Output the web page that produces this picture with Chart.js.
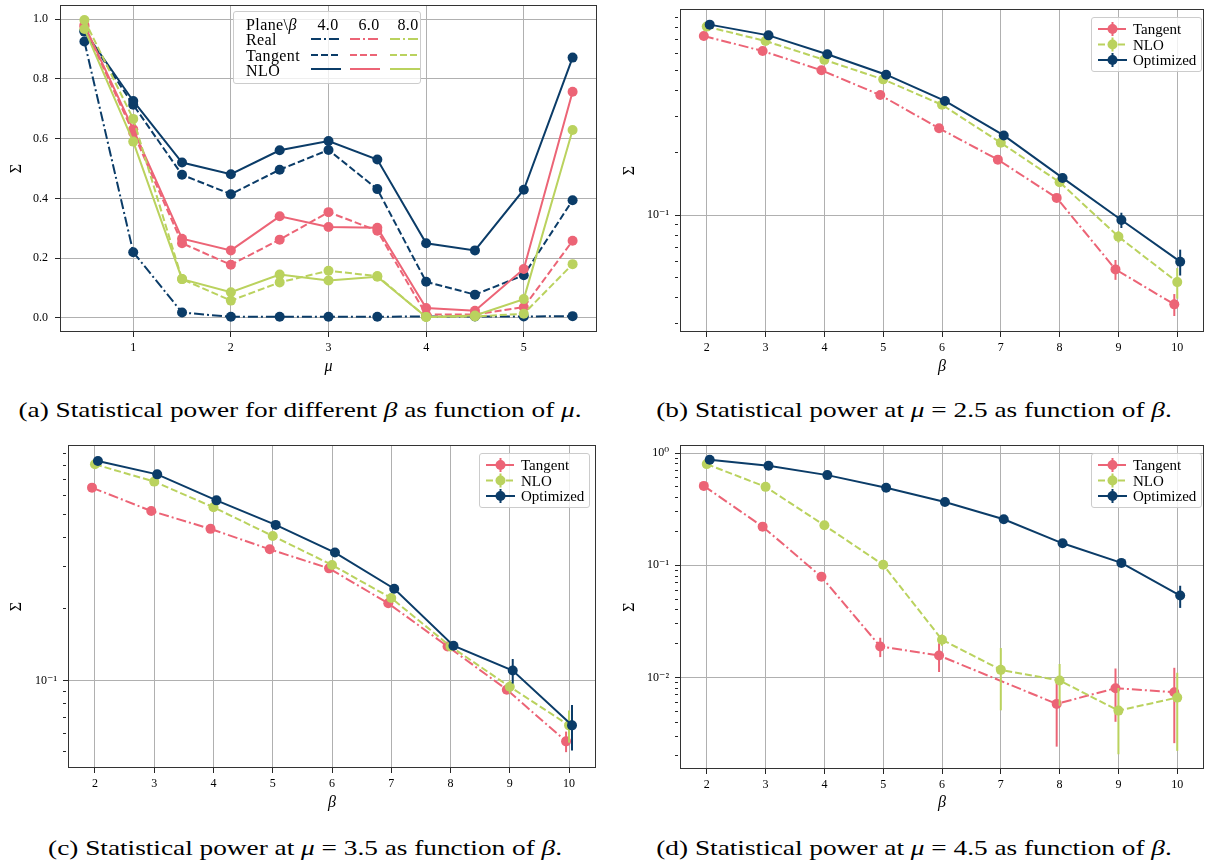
<!DOCTYPE html>
<html>
<head>
<meta charset="utf-8">
<title>Statistical power</title>
<script src="https://cdn.jsdelivr.net/npm/chart.js@4.4.1/dist/chart.umd.min.js"></script>
<style>
  body { margin: 0; background: #fff; }
  #page { position: relative; width: 1213px; height: 865px; overflow: hidden; font-family: 'Liberation Serif', 'DejaVu Serif', serif; color: #000; }
  canvas { position: absolute; }
  .cap { position: absolute; font-family: 'Liberation Serif', serif; font-size: 22px; line-height: 1; white-space: nowrap; transform: translate(-50%, -50%) scaleX(1.24); }
  .leg { position: absolute; box-sizing: border-box; background: rgba(255,255,255,0.8); border: 1px solid #cccccc; border-radius: 3px; font-size: 15px; }
  .leg svg { position: absolute; left: -1px; top: -1px; }
  .leg span { position: absolute; line-height: 1; white-space: nowrap; transform: translateY(-50%); }
  .leg.plane { font-size: 16px; letter-spacing: 0.4px; }
</style>
</head>
<body>
<div id="page">
  <canvas id="chartA" width="606" height="388" style="left:0;top:0"></canvas>
  <canvas id="chartB" width="607" height="388" style="left:606px;top:0"></canvas>
  <canvas id="chartC" width="606" height="388" style="left:0;top:436px"></canvas>
  <canvas id="chartD" width="607" height="388" style="left:606px;top:436px"></canvas>

  <div class="cap" style="left:300px;top:410px">(a) Statistical power for different <i>β</i> as function of <i>μ</i>.</div>
  <div class="cap" style="left:914px;top:410px">(b) Statistical power at <i>μ</i> = 2.5 as function of <i>β</i>.</div>
  <div class="cap" style="left:305px;top:848px">(c) Statistical power at <i>μ</i> = 3.5 as function of <i>β</i>.</div>
  <div class="cap" style="left:914px;top:848px">(d) Statistical power at <i>μ</i> = 4.5 as function of <i>β</i>.</div>
</div>
<script>
// ---- panel (a): power vs mu, one line per plane and beta
const mu = [0.5, 1, 1.5, 2, 2.5, 3, 3.5, 4, 4.5, 5, 5.5];
const muTicks = [1, 2, 3, 4, 5];
const powerTicks = [0, 0.2, 0.4, 0.6, 0.8, 1.0];

const real4 = [0.925, 0.22, 0.018, 0.004, 0.004, 0.004, 0.004, 0.005, 0.005, 0.005, 0.006];
const tangent4 = [0.958, 0.713, 0.479, 0.414, 0.496, 0.562, 0.431, 0.121, 0.078, 0.143, 0.394];
const nlo4 = [0.96, 0.726, 0.52, 0.481, 0.561, 0.592, 0.53, 0.25, 0.226, 0.429, 0.871];
const tangent6 = [0.975, 0.62, 0.25, 0.178, 0.262, 0.354, 0.292, 0.011, 0.012, 0.036, 0.258];
const nlo6 = [0.98, 0.631, 0.265, 0.226, 0.34, 0.304, 0.302, 0.033, 0.024, 0.164, 0.757];
const tangent8 = [0.997, 0.666, 0.13, 0.058, 0.119, 0.158, 0.14, 0.003, 0.005, 0.014, 0.18];
const nlo8 = [0.967, 0.59, 0.13, 0.086, 0.145, 0.125, 0.138, 0.003, 0.008, 0.063, 0.629];

// ---- panels (b)-(d): power vs beta at fixed mu, with errors
const betas = [2, 3, 4, 5, 6, 7, 8, 9, 10];

const tangentMu25 = [0.73, 0.618, 0.499, 0.379, 0.262, 0.185, 0.121, 0.0547, 0.0371];
const tangentMu25Err = [0.002, 0.002, 0.002, 0.003, 0.003, 0.003, 0.003, 0.006, 0.0045];
const nloMu25 = [0.81, 0.69, 0.56, 0.451, 0.34, 0.223, 0.144, 0.0787, 0.0475];
const nloMu25Err = [0.002, 0.002, 0.002, 0.003, 0.003, 0.003, 0.004, 0.005, 0.008];
const optMu25 = [0.828, 0.735, 0.596, 0.475, 0.355, 0.242, 0.151, 0.0946, 0.0596];
const optMu25Err = [0.002, 0.002, 0.002, 0.003, 0.003, 0.004, 0.006, 0.008, 0.0085];

const tangentMu35 = [0.647, 0.516, 0.434, 0.356, 0.296, 0.211, 0.139, 0.0914, 0.0554];
const tangentMu35Err = [0.002, 0.002, 0.002, 0.003, 0.003, 0.003, 0.003, 0.003, 0.0055];
const nloMu35 = [0.811, 0.686, 0.535, 0.405, 0.306, 0.222, 0.139, 0.094, 0.0647];
const nloMu35Err = [0.002, 0.002, 0.002, 0.003, 0.003, 0.004, 0.004, 0.006, 0.01];
const optMu35 = [0.838, 0.736, 0.572, 0.451, 0.345, 0.243, 0.14, 0.11, 0.0647];
const optMu35Err = [0.002, 0.002, 0.002, 0.003, 0.003, 0.005, 0.003, 0.013, 0.014];

const tangentMu45 = [0.51, 0.221, 0.0789, 0.0189, 0.0157, null, 0.00582, 0.00803, 0.0074];
const tangentMu45Err = [0.003, 0.003, 0.002, 0.0037, 0.0045, 0, 0.0034, 0.004, 0.0048];
const nloMu45 = [0.797, 0.5, 0.227, 0.101, 0.0217, 0.0117, 0.0094, 0.00507, 0.00662];
const nloMu45Err = [0.003, 0.003, 0.003, 0.003, 0.0025, 0.0066, 0.0038, 0.003, 0.0044];
const optMu45 = [0.872, 0.77, 0.636, 0.49, 0.367, 0.257, 0.157, 0.105, 0.0537];
const optMu45Err = [0.003, 0.003, 0.003, 0.003, 0.003, 0.004, 0.005, 0.007, 0.012];

const seriesNames = ['Tangent', 'NLO', 'Optimized'];
const planeNames = ['Real', 'Tangent', 'NLO'];
const betaNames = ['4.0', '6.0', '8.0'];

const BLUE = '#0b3c68', PINK = '#ec6476', GREEN = '#bad25e';
const DASH = [7, 3], DASHDOT = [10, 3, 2, 3], SOLID = [];
const SERIF = "'Liberation Serif', 'DejaVu Serif', serif";
const GRID = '#b0b0b0', TICK = '#262626';

// draws vertical error bars under each dataset
const errorBars = {
  id: 'errorBars',
  beforeDatasetDraw(chart, args) {
    const ds = chart.data.datasets[args.index];
    if (!ds.errors) return;
    const yScale = chart.scales[args.meta.yAxisID];
    const ctx = chart.ctx, a = chart.chartArea;
    ctx.save();
    ctx.beginPath();
    ctx.rect(a.left, a.top, a.right - a.left, a.bottom - a.top);
    ctx.clip();
    ctx.strokeStyle = ds.borderColor;
    ctx.lineWidth = 2;
    ds.data.forEach((p, i) => {
      const e = ds.errors[i];
      if (p.y == null || !e) return;
      const px = args.meta.data[i].x;
      ctx.beginPath();
      ctx.moveTo(px, yScale.getPixelForValue(p.y - e));
      ctx.lineTo(px, yScale.getPixelForValue(p.y + e));
      ctx.stroke();
    });
    ctx.restore();
  }
};

// axes box (all four spines)
const frame = {
  id: 'frame',
  afterDatasetsDraw(chart) {
    const { ctx, chartArea: a } = chart;
    ctx.save();
    ctx.strokeStyle = '#333';
    ctx.lineWidth = 1;
    ctx.strokeRect(Math.round(a.left) + 0.5, Math.round(a.top) + 0.5, Math.round(a.right - a.left) - 1, Math.round(a.bottom - a.top) - 1);
    ctx.restore();
  }
};

function series(xs, ys, color, dash, errs) {
  return {
    data: xs.map((x, i) => ({ x: x, y: ys[i] })),
    borderColor: color, backgroundColor: color,
    pointBackgroundColor: color, pointBorderWidth: 0,
    pointRadius: 5, pointHoverRadius: 5,
    borderDash: dash, borderWidth: 2, tension: 0, spanGaps: true,
    errors: errs
  };
}

function setTicks(values) {
  return s => { s.ticks = values.map(v => ({ value: v, major: true })); };
}
function logTicks(min, max, decades) {
  return s => {
    const t = [];
    for (let e = -4; e <= 1; e++) {
      for (let m = 1; m <= 9; m++) {
        const v = m * Math.pow(10, e);
        if (v >= min && v <= max) t.push({ value: v, major: m === 1 && decades.includes(e) });
      }
    }
    s.ticks = t;
  };
}
const SUP = { '-': '⁻', '0': '⁰', '1': '¹', '2': '²', '3': '³' };
function powLabel(v, i, ticks) {
  if (!ticks[i].major) return '';
  return '10' + String(Math.round(Math.log10(v))).split('').map(c => SUP[c]).join('');
}
function fixWidth(w) {
  return s => { s.width = w; s.paddingTop = s.paddingBottom = s.paddingLeft = s.paddingRight = 0; };
}
function fixHeight(h) {
  return s => { s.height = h; s.paddingTop = s.paddingBottom = s.paddingLeft = s.paddingRight = 0; };
}

function axis(o) {
  return {
    type: o.type, min: o.min, max: o.max,
    afterBuildTicks: o.build,
    afterFit: o.fit,
    border: { display: false },
    grid: {
      color: c => (c.tick && c.tick.major) ? GRID : 'rgba(0,0,0,0)',
      lineWidth: 1, tickLength: 5, tickColor: TICK, tickWidth: 1,
      tickBorderDash: c => (c.tick && c.tick.major) ? [] : [3, 10]
    },
    ticks: { autoSkip: false, maxRotation: 0, padding: o.pad, color: '#000', font: { family: SERIF, size: 12 }, callback: o.label },
    title: { display: true, text: o.title, color: '#000', font: { family: SERIF, size: 16, style: o.italic ? 'italic' : 'normal' }, padding: o.titlePad }
  };
}

function makeChart(id, datasets, pad, xScale, yScale) {
  return new Chart(document.getElementById(id), {
    type: 'line',
    data: { datasets: datasets },
    options: {
      responsive: false, animation: false, devicePixelRatio: 1,
      layout: { padding: pad },
      plugins: { legend: { display: false }, tooltip: { enabled: false } },
      scales: { x: xScale, y: yScale }
    },
    plugins: [errorBars, frame]
  });
}

// panel (a); later datasets sit on top, Chart.js draws index 0 last so reverse
const setsA = [
  series(mu, real4, BLUE, DASHDOT),
  series(mu, tangent4, BLUE, DASH),
  series(mu, nlo4, BLUE, SOLID),
  series(mu, tangent6, PINK, DASH),
  series(mu, nlo6, PINK, SOLID),
  series(mu, tangent8, GREEN, DASH),
  series(mu, nlo8, GREEN, SOLID)
].reverse();

makeChart('chartA', setsA, { left: 0, top: 4, right: 9, bottom: 0 },
  axis({ type: 'linear', min: 0.25, max: 5.75, build: setTicks(muTicks), fit: fixHeight(56), pad: 4,
         label: v => String(v), title: 'μ', italic: true, titlePad: { top: 0, bottom: 12 } }),
  axis({ type: 'linear', min: -0.047, max: 1.047, build: setTicks(powerTicks), fit: fixWidth(60), pad: 7,
         label: v => v.toFixed(1), title: 'Σ', titlePad: { top: 7, bottom: 0 } }));

// panels (b)-(d): small dodge on beta so the error bars do not overlap
const dodge = [-0.05, 0, 0.05];
const shifted = k => betas.map(b => b + dodge[k]);

function betaPanel(id, tangent, tangentErr, nlo, nloErr, opt, optErr, pad, yw, xh, ymin, ymax, decades, titleTop) {
  const sets = [
    series(shifted(0), tangent, PINK, DASHDOT, tangentErr),
    series(shifted(1), nlo, GREEN, DASH, nloErr),
    series(shifted(2), opt, BLUE, SOLID, optErr)
  ].reverse();
  makeChart(id, sets, pad,
    axis({ type: 'linear', min: 1.545, max: 10.455, build: setTicks(betas), fit: fixHeight(xh), pad: 4,
           label: v => String(v), title: 'β', italic: true, titlePad: { top: 0, bottom: 12 } }),
    axis({ type: 'logarithmic', min: ymin, max: ymax, build: logTicks(ymin, ymax, decades), fit: fixWidth(yw), pad: 6,
           label: powLabel, title: 'Σ', titlePad: { top: titleTop, bottom: 0 } }));
}

betaPanel('chartB', tangentMu25, tangentMu25Err, nloMu25, nloMu25Err, optMu25, optMu25Err,
  { left: 0, top: 9, right: 9, bottom: 0 }, 74, 56, 0.0273, 0.985, [-1], 14);
betaPanel('chartC', tangentMu35, tangentMu35Err, nloMu35, nloMu35Err, optMu35, optMu35Err,
  { left: 0, top: 9, right: 10, bottom: 0 }, 68, 56, 0.0428, 0.978, [-1], 7);
betaPanel('chartD', tangentMu45, tangentMu45Err, nloMu45, nloMu45Err, optMu45, optMu45Err,
  { left: 0, top: 9, right: 9, bottom: 0 }, 74, 55, 0.00153, 1.18, [-2, -1, 0], 14);

// ---- legends as html boxes
const page = document.getElementById('page');
const seriesColors = [PINK, GREEN, BLUE];
const seriesDashes = [DASHDOT, DASH, SOLID];

function dashAttr(d) { return d.length ? d.join(' ') : 'none'; }

function seriesLegend(left, top) {
  const el = document.createElement('div');
  el.className = 'leg';
  el.style.cssText = `left:${left}px;top:${top}px;width:111px;height:55px`;
  const rows = [12, 27.5, 43];
  let svg = '<svg width="111" height="55">';
  seriesNames.forEach((name, i) => {
    const y = rows[i], c = seriesColors[i];
    svg += `<line x1="7" y1="${y}" x2="36" y2="${y}" stroke="${c}" stroke-width="2" stroke-dasharray="${dashAttr(seriesDashes[i])}"/>`;
    svg += `<line x1="21.5" y1="${y - 7}" x2="21.5" y2="${y + 7}" stroke="${c}" stroke-width="2"/>`;
    svg += `<circle cx="21.5" cy="${y}" r="5" fill="${c}"/>`;
  });
  el.innerHTML = svg + '</svg>' + seriesNames.map((n, i) =>
    `<span style="left:41px;top:${rows[i] - 1}px">${n}</span>`).join('');
  page.appendChild(el);
}
seriesLegend(1091, 17);
seriesLegend(479, 453);
seriesLegend(1091, 453);

// panel (a) legend: planes as rows, beta as columns
(function planeLegend() {
  const el = document.createElement('div');
  el.className = 'leg plane';
  el.style.cssText = 'left:233px;top:11px;width:188px;height:73px';
  const colors = [BLUE, PINK, GREEN];
  const dashes = [DASHDOT, DASH, SOLID];
  const lineRows = [28, 44, 58];
  const textRows = [13, 28, 44, 59];
  const colX = [78, 117, 157];
  const headX = [94, 135, 174];
  let svg = '<svg width="188" height="73">';
  planeNames.forEach((p, r) => {
    colors.forEach((c, k) => {
      svg += `<line x1="${colX[k]}" y1="${lineRows[r]}" x2="${colX[k] + 30}" y2="${lineRows[r]}" stroke="${c}" stroke-width="2" stroke-dasharray="${dashAttr(dashes[r])}"/>`;
    });
  });
  let html = svg + '</svg>';
  html += `<span style="left:12px;top:${textRows[0]}px">Plane\\<i>β</i></span>`;
  betaNames.forEach((b, k) => {
    html += `<span style="left:${headX[k]}px;top:${textRows[0]}px;transform:translate(-50%,-50%)">${b}</span>`;
  });
  planeNames.forEach((p, r) => {
    html += `<span style="left:12px;top:${textRows[r + 1]}px">${p}</span>`;
  });
  el.innerHTML = html;
  page.appendChild(el);
})();
</script>
</body>
</html>
